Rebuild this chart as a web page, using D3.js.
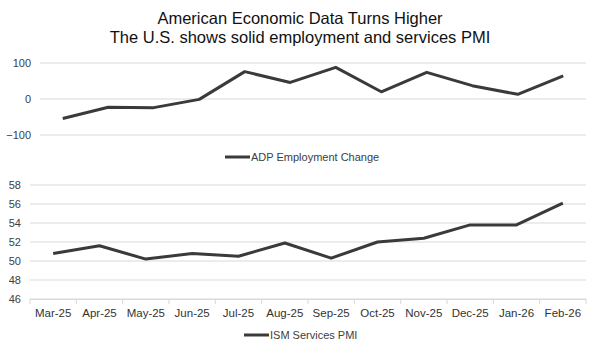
<!DOCTYPE html>
<html>
<head>
<meta charset="utf-8">
<script src="https://cdn.jsdelivr.net/npm/d3@7"></script>
<style>
  body { margin: 0; background: #fff; }
  text { font-family: "Liberation Sans", Arial, sans-serif; }
</style>
</head>
<body>
<div id="container"></div>
<script>
let w = 600;
let h = 353;

// data
let months = ["Mar-25", "Apr-25", "May-25", "Jun-25", "Jul-25", "Aug-25", "Sep-25", "Oct-25", "Nov-25", "Dec-25", "Jan-26", "Feb-26"];
let adpValues = [-54, -23, -24, -1, 76, 46, 88, 20, 74, 37, 13, 64];
let ismValues = [50.8, 51.6, 50.2, 50.8, 50.5, 51.9, 50.3, 52.0, 52.4, 53.8, 53.8, 56.1];
let adpTicks = [-100, 0, 100];
let ismTicks = [46, 48, 50, 52, 54, 56, 58];
let titleLines = ["American Economic Data Turns Higher", "The U.S. shows solid employment and services PMI"];

let lineColor = "#3a3a3a";
let gridColor = "#d9d9d9";
let textColor = "#404040";

let viz = d3.select("#container")
  .append("svg")
    .attr("width", w)
    .attr("height", h)
    .style("background-color", "white")
;

// title
viz.selectAll(".title").data(titleLines).enter()
  .append("text")
    .attr("class", "title")
    .attr("x", 300)
    .attr("y", function(d, i) { return 24 + i * 19; })
    .attr("text-anchor", "middle")
    .attr("font-size", 16.5)
    .attr("fill", "#111")
    .text(function(d) { return d; })
;

function drawPanel(opts) {
  let xScale = d3.scaleBand().domain(months).range([opts.left, opts.right]);
  let yScale = d3.scaleLinear().domain(opts.domain).range([opts.bottom, opts.top]);

  let g = viz.append("g").attr("class", "panel");

  // gridlines
  g.selectAll(".grid").data(opts.ticks).enter()
    .append("line")
      .attr("x1", opts.left)
      .attr("x2", opts.right)
      .attr("y1", function(d) { return yScale(d); })
      .attr("y2", function(d) { return yScale(d); })
      .attr("stroke", gridColor)
      .attr("stroke-width", 1)
  ;

  // y axis labels
  let yAxis = d3.axisLeft(yScale).tickValues(opts.ticks).tickSize(0).tickPadding(opts.labelPad);
  let yAxisGroup = g.append("g").attr("transform", "translate(" + opts.left + ",0)").call(yAxis);
  yAxisGroup.select(".domain").remove();
  yAxisGroup.selectAll("text").attr("font-size", 11).attr("fill", textColor).style("font-family", "Liberation Sans, Arial, sans-serif");

  if (opts.showX) {
    let xAxis = d3.axisBottom(xScale).tickSize(0).tickPadding(10);
    let xAxisGroup = g.append("g").attr("transform", "translate(0," + opts.bottom + ")").call(xAxis);
    xAxisGroup.select(".domain").attr("stroke", gridColor);
    xAxisGroup.selectAll("text").attr("font-size", 11.5).attr("fill", "#333").style("font-family", "Liberation Sans, Arial, sans-serif");
    // tick marks on band edges
    let edges = months.map(function(m) { return xScale(m); }).concat([opts.right]);
    g.selectAll(".xtick").data(edges).enter()
      .append("line")
        .attr("x1", function(d) { return d; })
        .attr("x2", function(d) { return d; })
        .attr("y1", opts.bottom)
        .attr("y2", opts.bottom + 5)
        .attr("stroke", gridColor)
    ;
  }

  let line = d3.line()
    .x(function(d, i) { return xScale(months[i]) + xScale.bandwidth() / 2; })
    .y(function(d) { return yScale(d); })
  ;
  g.append("path")
    .datum(opts.values)
    .attr("d", line)
    .attr("fill", "none")
    .attr("stroke", lineColor)
    .attr("stroke-width", 3)
    .attr("stroke-linejoin", "round")
  ;

  // legend
  let lg = g.append("g").attr("transform", "translate(" + opts.legendX + "," + opts.legendY + ")");
  lg.append("line")
    .attr("x1", 0).attr("x2", 25)
    .attr("y1", 0).attr("y2", 0)
    .attr("stroke", lineColor)
    .attr("stroke-width", 3)
  ;
  lg.append("text")
    .attr("x", 26)
    .attr("y", 4)
    .attr("font-size", 11)
    .attr("fill", textColor)
    .text(opts.name)
  ;
}

drawPanel({
  values: adpValues, ticks: adpTicks, domain: [-100, 100],
  left: 40, right: 586, top: 63, bottom: 135, labelPad: 9,
  showX: false, name: "ADP Employment Change", legendX: 225, legendY: 157
});

drawPanel({
  values: ismValues, ticks: ismTicks, domain: [46, 58],
  left: 30, right: 586, top: 185, bottom: 299, labelPad: 9,
  showX: true, name: "ISM Services PMI", legendX: 244, legendY: 335
});
</script>
</body>
</html>
